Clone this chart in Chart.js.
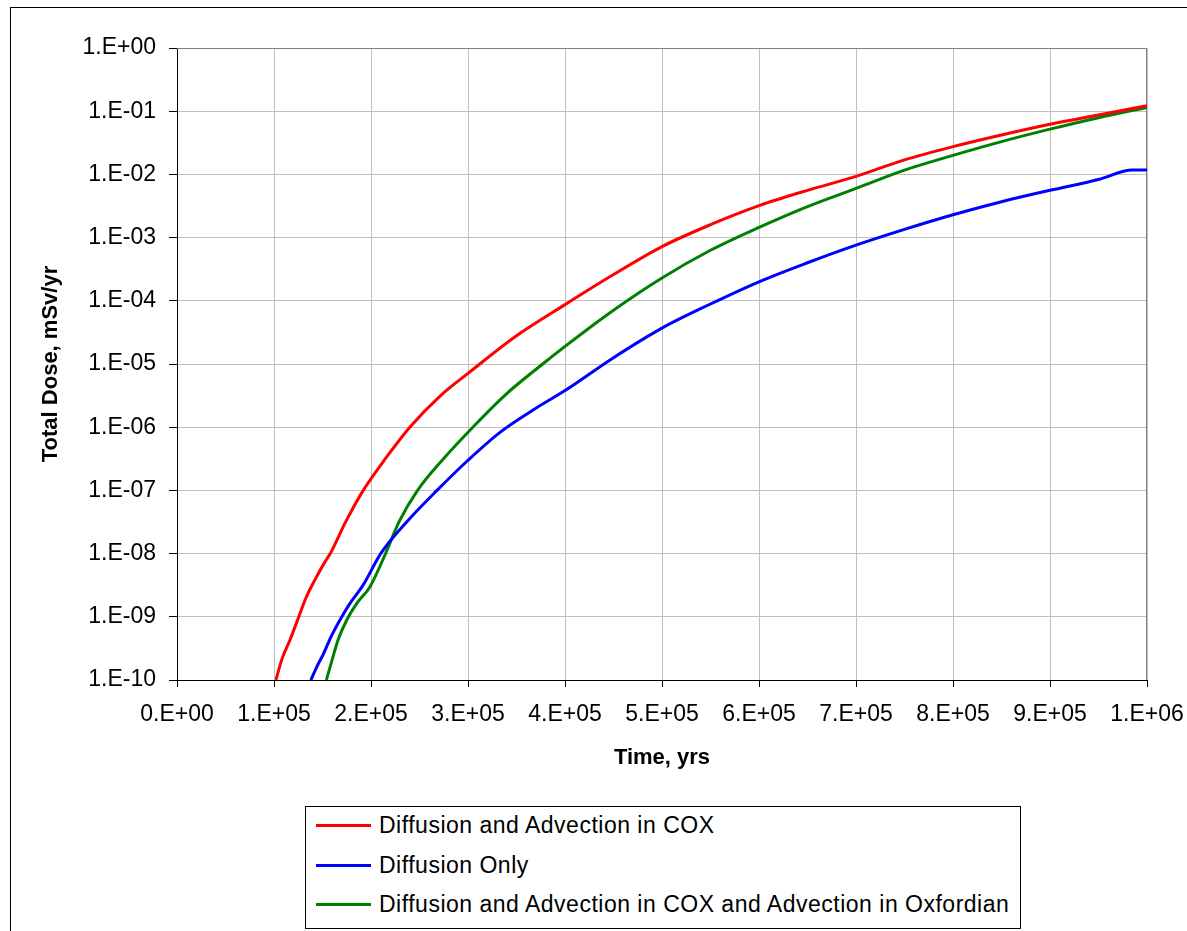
<!DOCTYPE html>
<html>
<head>
<meta charset="utf-8">
<script src="https://cdn.jsdelivr.net/npm/chart.js@4.4.0/dist/chart.umd.min.js"></script>
<style>
    body { margin: 0; background: #fff; }
    #wrap { position: relative; width: 1187px; height: 931px; overflow: hidden; background: #fff; }
    #frame { position: absolute; left: 10px; top: 7px; width: 1300px; height: 1000px; border: 1px solid #000; }
    #chartCanvas { position: absolute; left: 0; top: 0; }
    #legendBox { position: absolute; left: 305px; top: 806px; width: 714px; height: 121px; border: 1px solid #000; background: #fff;
        font-family: Arial, "Liberation Sans", sans-serif; font-size: 23px; letter-spacing: 0.5px; color: #000; }
    .row { position: absolute; left: 0; height: 30px; display: flex; align-items: center; white-space: nowrap; }
    .swatch { width: 55px; height: 3px; margin-left: 10px; margin-right: 8px; }
</style>
</head>
<body>
<div id="wrap">
    <div id="frame"></div>
    <canvas id="chartCanvas" width="1187" height="931"></canvas>
    <div id="legendBox"></div>
</div>
<script>
// 坐标轴刻度
const xTickValues = [0, 1e5, 2e5, 3e5, 4e5, 5e5, 6e5, 7e5, 8e5, 9e5, 1e6];
const xTickLabels = ['0.E+00', '1.E+05', '2.E+05', '3.E+05', '4.E+05', '5.E+05', '6.E+05', '7.E+05', '8.E+05', '9.E+05', '1.E+06'];
const yTickValues = [1e-10, 1e-9, 1e-8, 1e-7, 1e-6, 1e-5, 1e-4, 1e-3, 1e-2, 1e-1, 1];
const yTickLabels = ['1.E-10', '1.E-09', '1.E-08', '1.E-07', '1.E-06', '1.E-05', '1.E-04', '1.E-03', '1.E-02', '1.E-01', '1.E+00'];

const seriesNames = ['Diffusion and Advection in COX', 'Diffusion Only', 'Diffusion and Advection in COX and Advection in Oxfordian'];
const seriesColors = ['#ff0000', '#0000ff', '#008000'];

// Diffusion and Advection in COX
const redTime = [1.02e5, 1.08e5, 1.17e5, 1.25e5, 1.33e5, 1.42e5, 1.53e5, 1.58e5, 1.74e5, 1.92e5, 2.15e5, 2.40e5, 2.72e5,
    3.0e5, 3.5e5, 4.0e5, 4.5e5, 5.0e5, 5.5e5, 6.0e5, 6.5e5, 7.0e5, 7.5e5, 8.0e5, 8.5e5, 9.0e5, 9.5e5, 1.0e6];
const redDose = [1.0e-10, 2.1e-10, 4.5e-10, 9.5e-10, 2.0e-9, 3.8e-9, 7.6e-9, 1.0e-8, 3.2e-8, 1.0e-7, 3.2e-7, 1.0e-6, 3.2e-6,
    7.1e-6, 2.8e-5, 8.7e-5, 2.6e-4, 7.2e-4, 1.6e-3, 3.2e-3, 5.6e-3, 9.3e-3, 1.7e-2, 2.75e-2, 4.2e-2, 6.2e-2, 8.7e-2, 1.22e-1];

// Diffusion Only
const blueTime = [1.38e5, 1.44e5, 1.51e5, 1.59e5, 1.68e5, 1.78e5, 1.92e5, 2.10e5, 2.37e5, 2.68e5, 3.0e5, 3.33e5, 3.7e5,
    4.0e5, 4.5e5, 5.0e5, 5.5e5, 6.0e5, 6.5e5, 7.0e5, 7.5e5, 8.0e5, 8.5e5, 9.0e5, 9.5e5, 9.85e5, 1.0e6];
const blueDose = [1.0e-10, 1.6e-10, 2.6e-10, 4.9e-10, 8.9e-10, 1.6e-9, 3.2e-9, 1.0e-8, 3.2e-8, 1.0e-7, 3.0e-7, 8.3e-7, 2.0e-6,
    3.8e-6, 1.26e-5, 3.7e-5, 8.9e-5, 2.0e-4, 4.0e-4, 7.6e-4, 1.35e-3, 2.3e-3, 3.7e-3, 5.6e-3, 8.3e-3, 1.17e-2, 1.17e-2];

// Diffusion and Advection in COX and Advection in Oxfordian
const greenTime = [1.54e5, 1.60e5, 1.66e5, 1.75e5, 1.85e5, 1.99e5, 2.15e5, 2.29e5, 2.48e5, 2.75e5, 3.05e5, 3.38e5, 3.77e5,
    4.0e5, 4.5e5, 5.0e5, 5.5e5, 6.0e5, 6.5e5, 7.0e5, 7.5e5, 8.0e5, 8.5e5, 9.0e5, 9.5e5, 1.0e6];
const greenDose = [1.0e-10, 2.1e-10, 4.3e-10, 8.9e-10, 1.6e-9, 3.0e-9, 1.0e-8, 3.2e-8, 1.0e-7, 3.2e-7, 1.0e-6, 3.2e-6, 1.0e-5,
    1.9e-5, 7.1e-5, 2.3e-4, 6.3e-4, 1.45e-3, 3.1e-3, 6.0e-3, 1.17e-2, 2.0e-2, 3.3e-2, 5.2e-2, 7.9e-2, 1.15e-1];

const toPoints = (xs, ys) => xs.map((x, i) => ({ x: x, y: ys[i] }));

Chart.defaults.font.family = 'Arial, "Liberation Sans", sans-serif';
Chart.defaults.color = '#000';

// 绘图区上边和右边的灰色边框
const plotBorder = {
    id: 'plotBorder',
    beforeDatasetsDraw(chart) {
        const { ctx, chartArea: a } = chart;
        ctx.save();
        ctx.strokeStyle = '#808080';
        ctx.lineWidth = 1;
        ctx.beginPath();
        ctx.moveTo(a.left, a.top + 0.5);
        ctx.lineTo(a.right - 0.5, a.top + 0.5);
        ctx.lineTo(a.right - 0.5, a.bottom);
        ctx.stroke();
        ctx.restore();
    }
};

const datasets = [
    { label: seriesNames[0], data: toPoints(redTime, redDose), borderColor: seriesColors[0] },
    { label: seriesNames[1], data: toPoints(blueTime, blueDose), borderColor: seriesColors[1] },
    { label: seriesNames[2], data: toPoints(greenTime, greenDose), borderColor: seriesColors[2] }
].map(d => ({ ...d, showLine: true, pointRadius: 0, borderWidth: 3, cubicInterpolationMode: 'monotone', fill: false }));

new Chart(document.getElementById('chartCanvas'), {
    type: 'scatter',
    data: { datasets: datasets },
    plugins: [plotBorder],
    options: {
        responsive: false,
        animation: false,
        layout: { padding: { left: 34, top: 48, right: 40, bottom: 156 } },
        plugins: { legend: { display: false }, tooltip: { enabled: false } },
        scales: {
            x: {
                type: 'linear',
                min: 0,
                max: 1e6,
                afterBuildTicks: scale => { scale.ticks = xTickValues.map(v => ({ value: v })); },
                afterFit: scale => { scale.height = 95; scale.paddingLeft = 0; scale.paddingRight = 0; },
                ticks: { font: { size: 23 }, padding: 14, maxRotation: 0, autoSkip: false,
                    callback: (v, i) => xTickLabels[i] },
                grid: { color: '#c0c0c0', tickColor: '#000', tickLength: 7 },
                border: { color: '#000', width: 1 },
                title: { display: true, text: 'Time, yrs', font: { size: 22, weight: 'bold' }, padding: 4 }
            },
            y: {
                type: 'logarithmic',
                min: 1e-10,
                max: 1,
                afterBuildTicks: scale => { scale.ticks = yTickValues.map(v => ({ value: v })); },
                afterFit: scale => { scale.width = 143; scale.paddingTop = 0; scale.paddingBottom = 0; },
                ticks: { font: { size: 23 }, padding: 13, autoSkip: false,
                    callback: (v, i) => yTickLabels[i] },
                grid: { color: '#c0c0c0', tickColor: '#000', tickLength: 8 },
                border: { color: '#000', width: 1 },
                title: { display: true, text: 'Total Dose, mSv/yr', font: { size: 22, weight: 'bold' }, padding: 4 }
            }
        }
    }
});

// 图例
const legendBox = document.getElementById('legendBox');
const rowTops = [3, 43, 82];
seriesNames.forEach((name, i) => {
    const row = document.createElement('div');
    row.className = 'row';
    row.style.top = rowTops[i] + 'px';
    row.innerHTML = `<div class="swatch" style="background:${seriesColors[i]}"></div><span>${name}</span>`;
    legendBox.appendChild(row);
});
</script>
</body>
</html>
